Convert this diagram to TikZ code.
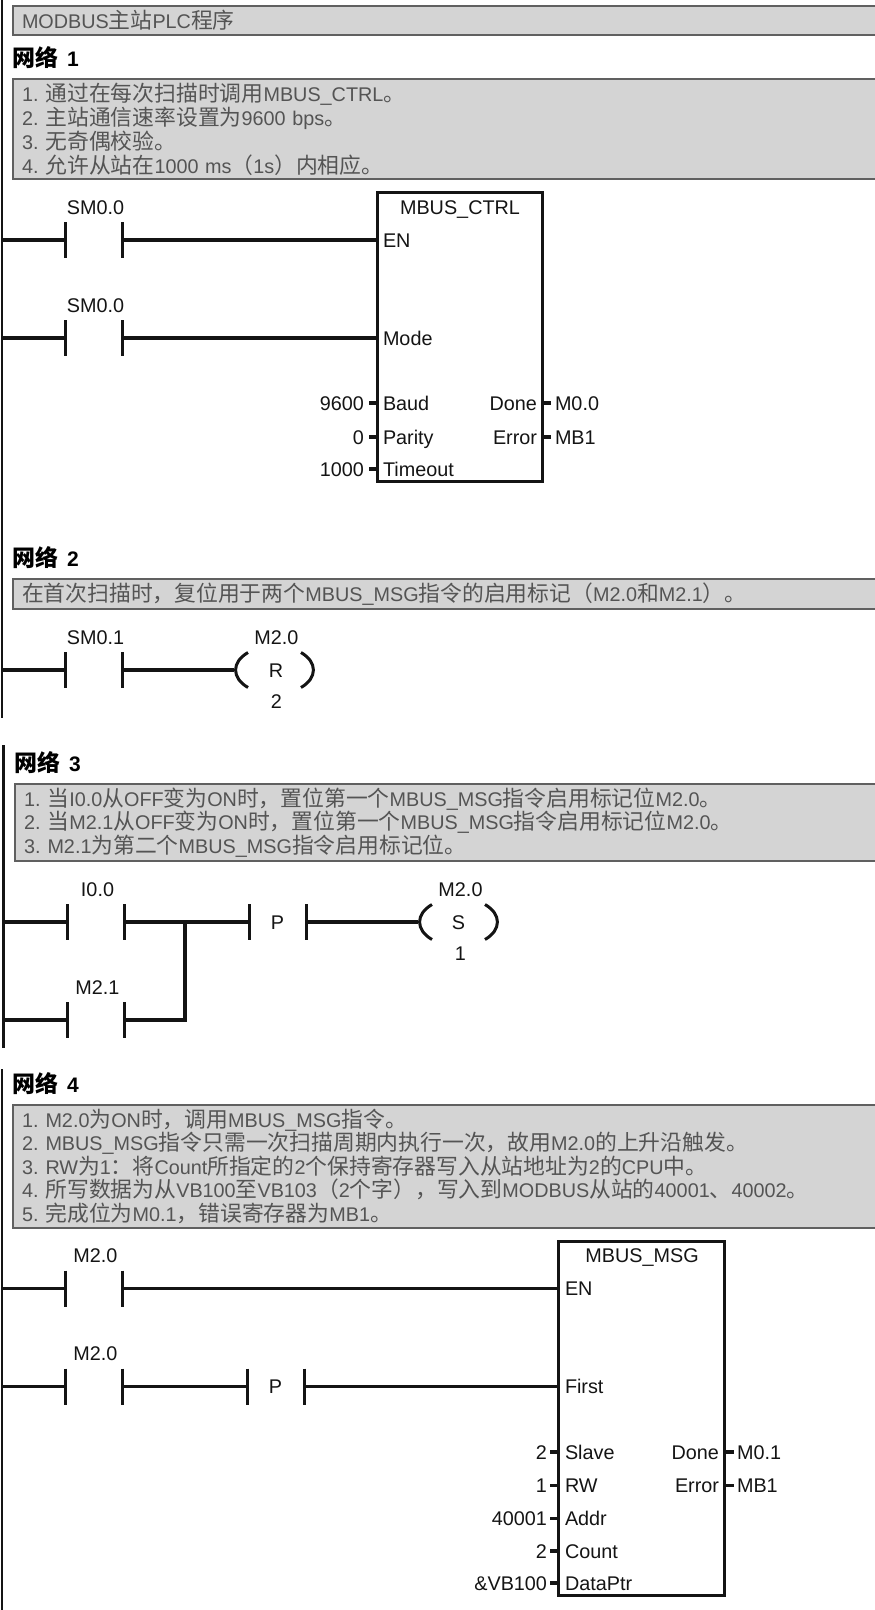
\documentclass[tikz,border=0pt]{standalone}
\usepackage{fontspec}
\setmainfont{Liberation Sans}
\newfontfamily\cjk{Noto Sans CJK SC}
\usetikzlibrary{arrows.meta, positioning, calc}
\definecolor{cinzaCaixa}{RGB}{212, 212, 212}
\definecolor{cinzaBorda}{RGB}{96, 96, 96}
\definecolor{cinzaTexto}{RGB}{84, 84, 84}
\definecolor{preto}{RGB}{20, 20, 20}
\newcommand{\zh}[1]{{\cjk\fontsize{21.8}{24}\selectfont #1}}
\newcommand{\zhb}[1]{{\cjk\bfseries\fontsize{23}{24}\selectfont #1}}
\lineskiplimit=-8pt
\tikzset{
  fio/.style={line width=3.5pt, preto},
  trilho/.style={line width=2.5pt, preto},
  placa/.style={line width=3pt, preto},
  caixaLat/.style={line width=3pt, preto, bend angle=60, looseness=1.4},
  comentario/.style={
    draw=cinzaBorda, fill=cinzaCaixa, line width=2pt, anchor=north west,
    text width=850pt, inner xsep=9pt, inner ysep=0pt, outer sep=0pt, align=left, text=cinzaTexto,
    font={\fontsize{19.8}{#1}\selectfont}
  },
  titulo/.style={anchor=west, inner sep=0pt, text=black, font={\bfseries\fontsize{21}{24}\selectfont}},
  rotulo/.style={inner sep=0pt, outer sep=0pt, text height=14pt, text depth=0pt, text=preto, font={\fontsize{19.8}{24}\selectfont}},
  etiqueta/.style={rotulo, xshift=2pt},
  pino/.style={rotulo, anchor=west},
  pinoDir/.style={rotulo, anchor=east},
  valor/.style={rotulo, anchor=east},
  contato/.style={
    rotulo, minimum width=57pt, minimum height=36pt,
    append after command={
      (\tikzlastnode.north west) edge[placa] (\tikzlastnode.south west)
      (\tikzlastnode.north east) edge[placa] (\tikzlastnode.south east)
    }
  },
  bobina/.style={
    rotulo, minimum width=81pt, minimum height=35pt,
    append after command={
      ([xshift=14pt]\tikzlastnode.north west) edge[caixaLat, bend right] ([xshift=14pt]\tikzlastnode.south west)
      ([xshift=-14pt]\tikzlastnode.north east) edge[caixaLat, bend left] ([xshift=-14pt]\tikzlastnode.south east)
    }
  },
  bloco/.style={draw=preto, line width=3pt, anchor=north west, inner sep=0pt, outer sep=0pt},
}
\begin{document}
\begin{tikzpicture}[x=1pt, y=-1pt, node distance=8pt]
  \useasboundingbox (0,0) rectangle (875,1610);
  \clip (0,0) rectangle (875,1610);

  % trilhos
  \coordinate (t1a) at (2,0);
  \coordinate (t1b) at (2,718);
  \coordinate (t3a) at (3.5,745);
  \coordinate (t3b) at (3.5,1048);
  \coordinate (t4a) at (2,1069);
  \coordinate (t4b) at (2,1610);
  \draw[trilho] (t1a) -- (t1b);
  \draw[trilho] (t3a) -- (t3b);
  \draw[trilho] (t4a) -- (t4b);

  \node[comentario=24, minimum height=29pt] (tit) at (13,6) {MODBUS\zh{主站}PLC\zh{程序}};

  % Rede 1
  \node[titulo] (net1) at (12,58) {\zhb{网络}\kern3pt{} 1};
  \node[comentario=24, minimum height=100pt] (com1) at (13,79) {
    1.\kern7pt\zh{通过在每次扫描时调用}MBUS\_CTRL\zh{。}\\
    2.\kern7pt\zh{主站通信速率设置为}9600 bps\zh{。}\\
    3.\kern7pt\zh{无奇偶校验。}\\
    4.\kern7pt\zh{允许从站在}1000 ms\zh{（}1s\zh{）内相应。}};

  \node[contato] (c1) at (93.5,240) {};
  \node[etiqueta, above=of c1] (c1lab) {SM0.0};
  \node[contato, below=62pt of c1] (c2) {};
  \node[etiqueta, above=of c2] (c2lab) {SM0.0};

  \node[bloco, minimum width=165pt, minimum height=289pt] (ctrl) at (377,192) {};
  \node[rotulo] (ctrlT) at (460,207) {MBUS\_CTRL};
  \node[pino] (ctrlEN) at (383,240) {EN};
  \node[pino] (ctrlMode) at (383,338) {Mode};
  \node[pino] (ctrlBaud) at (383,403) {Baud};
  \node[pino] (ctrlPar) at (383,437) {Parity};
  \node[pino] (ctrlTime) at (383,469) {Timeout};
  \node[valor, left=19pt of ctrlBaud] (v9600) {9600};
  \node[valor, left=19pt of ctrlPar] (v0) {0};
  \node[valor, left=19pt of ctrlTime] (v1000) {1000};
  \node[pinoDir] (ctrlDone) at (537,403) {Done};
  \node[pinoDir] (ctrlErr) at (537,437) {Error};
  \node[pino, right=18pt of ctrlDone] (m00) {M0.0};
  \node[pino, right=18pt of ctrlErr] (mb1a) {MB1};

  \draw[fio] (t1a |- c1) -- (c1.west);
  \draw[fio] (c1.east) -- (ctrl.west |- c1);
  \draw[fio] (t1a |- c2) -- (c2.west);
  \draw[fio] (c2.east) -- (ctrl.west |- c2);
  \draw[fio] ([xshift=5pt]v9600.east) -- (ctrl.west |- v9600);
  \draw[fio] ([xshift=5pt]v0.east) -- (ctrl.west |- v0);
  \draw[fio] ([xshift=5pt]v1000.east) -- (ctrl.west |- v1000);
  \draw[fio] (ctrl.east |- m00) -- ([xshift=-4pt]m00.west);
  \draw[fio] (ctrl.east |- mb1a) -- ([xshift=-4pt]mb1a.west);

  % Rede 2
  \node[titulo] (net2) at (12,558) {\zhb{网络}\kern3pt{} 2};
  \node[comentario=24, minimum height=30pt] (com2) at (13,579) {\zh{在首次扫描时，复位用于两个}MBUS\_MSG\zh{指令的启用标记（}M2.0\zh{和}M2.1\zh{）。}};

  \node[contato] (c3) at (93.5,670) {};
  \node[etiqueta, above=of c3] (c3lab) {SM0.1};
  \node[bobina, right=112pt of c3] (r1) {\kern3pt R};
  \node[etiqueta, above=of r1] (r1lab) {M2.0};
  \node[etiqueta, below=7pt of r1] (r1n) {2};

  \draw[fio] (t1a |- c3) -- (c3.west);
  \draw[fio] (c3.east) -- (r1.west);

  % Rede 3
  \node[titulo] (net3) at (14,763) {\zhb{网络}\kern3pt{} 3};
  \node[comentario=23.5, minimum height=77pt] (com3) at (15,784) {
    1.\kern7pt\zh{当}I0.0\zh{从}OFF\zh{变为}ON\zh{时，置位第一个}MBUS\_MSG\zh{指令启用标记位}M2.0\zh{。}\\
    2.\kern7pt\zh{当}M2.1\zh{从}OFF\zh{变为}ON\zh{时，置位第一个}MBUS\_MSG\zh{指令启用标记位}M2.0\zh{。}\\
    3.\kern7pt M2.1\zh{为第二个}MBUS\_MSG\zh{指令启用标记位。}};

  \node[contato] (c4) at (95.5,922) {};
  \node[etiqueta, above=of c4] (c4lab) {I0.0};
  \node[contato, below=62pt of c4] (c5) {};
  \node[etiqueta, above=of c5] (c5lab) {M2.1};
  \node[contato, right=125pt of c4] (p1) {P};
  \node[bobina, right=112pt of p1] (s1) {S};
  \node[etiqueta, above=of s1] (s1lab) {M2.0};
  \node[etiqueta, below=7pt of s1] (s1n) {1};
  \coordinate (nodo) at (185,922);

  \draw[fio] (t3a |- c4) -- (c4.west);
  \draw[fio] (c4.east) -- (p1.west);
  \draw[fio] (p1.east) -- (s1.west);
  \draw[fio] (t3a |- c5) -- (c5.west);
  \draw[fio] (c5.east) -| (nodo);

  % Rede 4
  \node[titulo] (net4) at (12,1084) {\zhb{网络}\kern3pt{} 4};
  \node[comentario=23.5, minimum height=123pt] (com4) at (13,1104.5) {
    1.\kern7pt M2.0\zh{为}ON\zh{时，调用}MBUS\_MSG\zh{指令。}\\
    2.\kern7pt MBUS\_MSG\zh{指令只需一次扫描周期内执行一次，故用}M2.0\zh{的上升沿触发。}\\
    3.\kern7pt RW\zh{为}1\zh{：将}Count\zh{所指定的}2\zh{个保持寄存器写入从站地址为}2\zh{的}CPU\zh{中。}\\
    4.\kern7pt\zh{所写数据为从}VB100\zh{至}VB103\zh{（}2\zh{个字），写入到}MODBUS\zh{从站的}40001\zh{、}40002\zh{。}\\
    5.\kern7pt\zh{完成位为}M0.1\zh{，错误寄存器为}MB1\zh{。}};

  \node[contato] (c6) at (93.5,1288.5) {};
  \node[etiqueta, above=of c6] (c6lab) {M2.0};
  \node[contato, below=62pt of c6] (c7) {};
  \node[etiqueta, above=of c7] (c7lab) {M2.0};
  \node[contato, right=125pt of c7] (p2) {P};

  \node[bloco, minimum width=166pt, minimum height=354pt] (msg) at (558,1241) {};
  \node[rotulo] (msgT) at (642,1255.5) {MBUS\_MSG};
  \node[pino] (msgEN) at (565,1288.5) {EN};
  \node[pino] (msgFirst) at (565,1386.5) {First};
  \node[pino] (msgSlave) at (565,1452) {Slave};
  \node[pino] (msgRW) at (565,1485.5) {RW};
  \node[pino] (msgAddr) at (565,1518.5) {Addr};
  \node[pino] (msgCount) at (565,1551) {Count};
  \node[pino] (msgPtr) at (565,1583) {DataPtr};
  \node[valor, left=18pt of msgSlave] (vs2) {2};
  \node[valor, left=18pt of msgRW] (vrw) {1};
  \node[valor, left=18pt of msgAddr] (vaddr) {40001};
  \node[valor, left=18pt of msgCount] (vcnt) {2};
  \node[valor, left=18pt of msgPtr] (vptr) {\&VB100};
  \node[pinoDir] (msgDone) at (719,1452) {Done};
  \node[pinoDir] (msgErr) at (719,1485.5) {Error};
  \node[pino, right=18pt of msgDone] (m01) {M0.1};
  \node[pino, right=18pt of msgErr] (mb1b) {MB1};

  \draw[fio] (t4a |- c6) -- (c6.west);
  \draw[fio] (c6.east) -- (msg.west |- c6);
  \draw[fio] (t4a |- c7) -- (c7.west);
  \draw[fio] (c7.east) -- (p2.west);
  \draw[fio] (p2.east) -- (msg.west |- p2);
  \draw[fio] ([xshift=3pt]vs2.east) -- (msg.west |- vs2);
  \draw[fio] ([xshift=3pt]vrw.east) -- (msg.west |- vrw);
  \draw[fio] ([xshift=3pt]vaddr.east) -- (msg.west |- vaddr);
  \draw[fio] ([xshift=3pt]vcnt.east) -- (msg.west |- vcnt);
  \draw[fio] ([xshift=3pt]vptr.east) -- (msg.west |- vptr);
  \draw[fio] (msg.east |- m01) -- ([xshift=-3pt]m01.west);
  \draw[fio] (msg.east |- mb1b) -- ([xshift=-3pt]mb1b.west);
\end{tikzpicture}
\end{document}
